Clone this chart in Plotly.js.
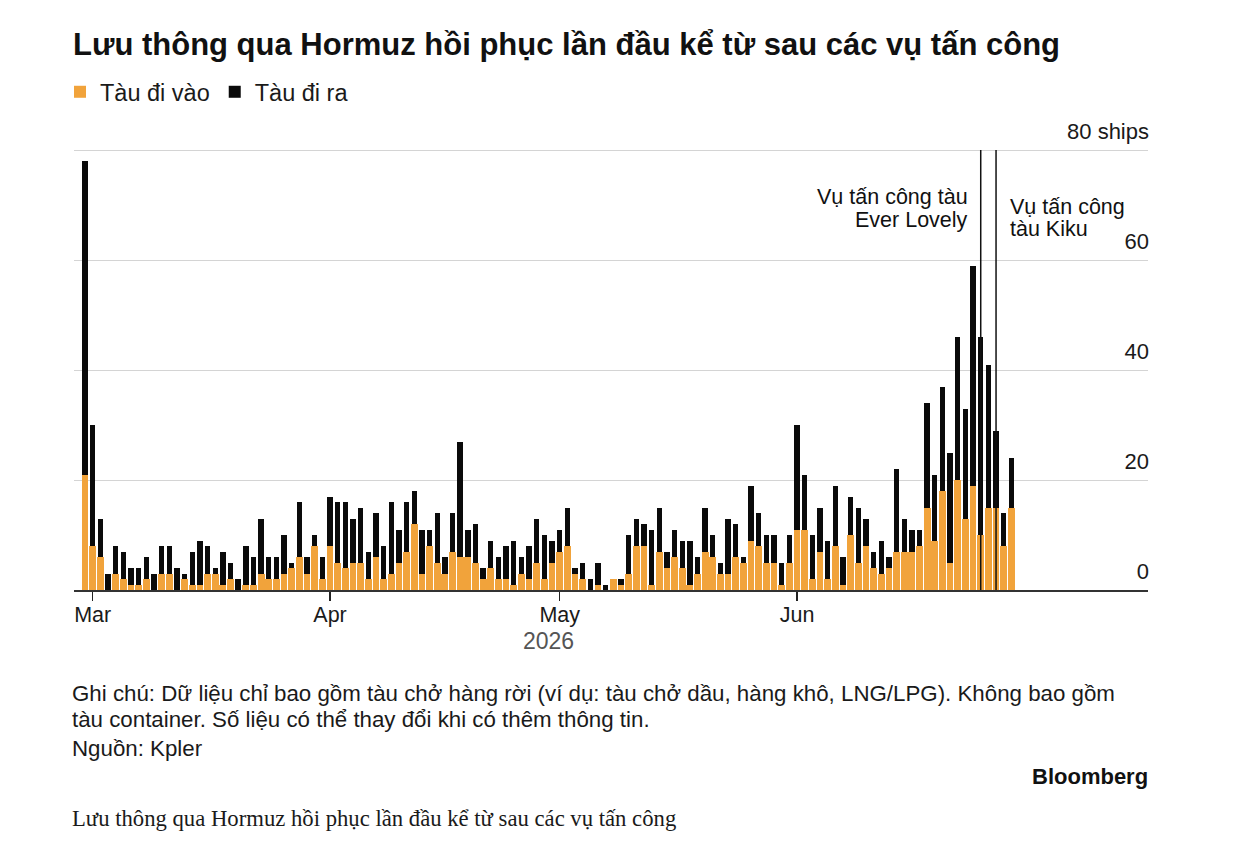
<!DOCTYPE html>
<html>
<head>
<meta charset="utf-8">
<script src="https://cdn.plot.ly/plotly-3.0.1.min.js"></script>
<style>
  html, body { margin: 0; padding: 0; background: #ffffff; }
  #chart { width: 1242px; height: 848px; }
</style>
</head>
<body>
<div id="chart"></div>
<script>
// ---- data (ships per day) ----
const firstDay = '2026-02-28';
const totalShips = [
  78, 30, 13, 3, 8, 7, 4, 4, 6, 3, 8, 8, 4, 3, 7, 9, 8, 4, 7, 5, 2, 8,
  6, 13, 6, 6, 10, 5, 16, 6, 10, 6,
  17, 16, 16, 13, 15, 7, 14, 8, 16, 11, 16, 18, 11, 11, 14, 6, 14, 27, 11, 12, 4, 9, 6, 8, 9, 6, 8, 13, 10, 9,
  11, 15, 4, 5, 2, 5, 1, 2, 2, 10, 13, 12, 11, 15, 7, 11, 9, 9, 6, 15, 10, 5, 13, 12, 6, 19, 14, 10, 10, 5, 10,
  30, 21, 10, 15, 9, 19, 6, 17, 15, 13, 7, 9, 6, 22, 13, 11, 11, 34, 21, 37, 25, 46, 33, 59, 46, 41, 29, 14, 24
];
const inbound = [
  21, 8, 6, 0, 3, 2, 1, 1, 2, 0, 3, 3, 0, 2, 1, 1, 3, 3, 1, 2, 0, 1,
  1, 3, 2, 2, 3, 4, 6, 3, 8, 2,
  8, 5, 4, 5, 5, 2, 6, 2, 3, 5, 7, 12, 3, 8, 5, 3, 7, 6, 6, 5, 2, 4, 2, 2, 1, 3, 2, 5, 2, 5,
  7, 8, 3, 2, 0, 1, 0, 2, 1, 3, 8, 8, 1, 7, 4, 6, 4, 1, 3, 7, 6, 3, 3, 6, 5, 9, 8, 5, 5, 1, 5,
  11, 11, 2, 7, 2, 8, 1, 10, 5, 8, 4, 3, 4, 7, 7, 7, 8, 15, 9, 18, 5, 20, 13, 19, 10, 15, 15, 8, 15
];
const outbound = totalShips.map((t, i) => t - inbound[i]);
const seriesNames = ['Tàu đi vào', 'Tàu đi ra'];
const seriesColors = ['#F1A33B', '#0a0a0a'];
const monthTicks = ['2026-03-01', '2026-04-01', '2026-05-01', '2026-06-01'];
const monthLabels = ['Mar', 'Apr', 'May', 'Jun'];
const yTicks = [0, 20, 40, 60, 80];
const yLabels = ['0', '20', '40', '60', '80 ships'];
const eventDates = ['2026-06-25', '2026-06-27'];
const eventLines = [['Vụ tấn công tàu', 'Ever Lovely'], ['Vụ tấn công', 'tàu Kiku']];
const yearLabel = '2026';
const titleText = 'Lưu thông qua Hormuz hồi phục lần đầu kể từ sau các vụ tấn công';
const noteLines = [
  'Ghi chú: Dữ liệu chỉ bao gồm tàu chở hàng rời (ví dụ: tàu chở dầu, hàng khô, LNG/LPG). Không bao gồm',
  'tàu container. Số liệu có thể thay đổi khi có thêm thông tin.',
  'Nguồn: Kpler'
];
const brandText = 'Bloomberg';
const captionText = 'Lưu thông qua Hormuz hồi phục lần đầu kể từ sau các vụ tấn công';

// ---- dates (consecutive days) ----
const DAY = 86400000;
const t0 = Date.parse(firstDay + 'T00:00:00Z');
const dates = totalShips.map((_, i) => new Date(t0 + i * DAY).toISOString().slice(0, 10));
const midDate = new Date((Date.parse(dates[0]) + Date.parse(dates[dates.length - 1])) / 2).toISOString().slice(0, 16).replace('T', ' ');

const FONT = 'Liberation Sans, Arial, Helvetica, sans-serif';

const traces = [
  {
    type: 'bar', name: seriesNames[0], x: dates, y: inbound,
    width: dates.map(() => DAY * 0.88),
    marker: { color: seriesColors[0], line: { width: 0 } },
    hoverinfo: 'x+y'
  },
  {
    type: 'bar', name: seriesNames[1], x: dates, y: outbound, base: inbound,
    width: dates.map(() => DAY * 0.7),
    marker: { color: seriesColors[1], line: { width: 0 } },
    hoverinfo: 'x+y'
  }
];

const plotTop = 147, plotBottom = 590, plotH = plotBottom - plotTop;
const yMax = 80 * plotH / 440;
const py = (pix) => (plotBottom - pix) / plotH;
const txt = (size, color, extra) => Object.assign({ family: FONT, size: size, color: color || '#1a1a1a' }, extra || {});

const annotations = [
  { text: eventLines[0][0], x: eventDates[0], xref: 'x', xanchor: 'right', xshift: -11,
    y: py(197), yref: 'paper', yanchor: 'middle', showarrow: false, font: txt(21.5, '#111') },
  { text: eventLines[0][1], x: eventDates[0], xref: 'x', xanchor: 'right', xshift: -11,
    y: py(220), yref: 'paper', yanchor: 'middle', showarrow: false, font: txt(21.5, '#111') },
  { text: eventLines[1][0], x: eventDates[1], xref: 'x', xanchor: 'left', xshift: 12,
    y: py(207), yref: 'paper', yanchor: 'middle', showarrow: false, font: txt(21.5, '#111') },
  { text: eventLines[1][1], x: eventDates[1], xref: 'x', xanchor: 'left', xshift: 12,
    y: py(229), yref: 'paper', yanchor: 'middle', showarrow: false, font: txt(21.5, '#111') },
  { text: yearLabel, x: midDate, xref: 'x', xanchor: 'center', y: py(641), yref: 'paper',
    yanchor: 'middle', showarrow: false, font: txt(23, '#555') },
  { text: noteLines[0], x: 0, xref: 'paper', xanchor: 'left', xshift: -4, y: py(693), yref: 'paper',
    yanchor: 'middle', showarrow: false, font: txt(22.3) },
  { text: noteLines[1], x: 0, xref: 'paper', xanchor: 'left', xshift: -4, y: py(719), yref: 'paper',
    yanchor: 'middle', showarrow: false, font: txt(22.3) },
  { text: noteLines[2], x: 0, xref: 'paper', xanchor: 'left', xshift: -4, y: py(748), yref: 'paper',
    yanchor: 'middle', showarrow: false, font: txt(22.3) },
  { text: brandText, x: 1, xref: 'paper', xanchor: 'right', xshift: 2, y: py(776), yref: 'paper',
    yanchor: 'middle', showarrow: false, font: txt(22, '#111', { weight: 'bold' }) },
  { text: captionText, x: 0, xref: 'paper', xanchor: 'left', xshift: -4, y: py(818), yref: 'paper',
    yanchor: 'middle', showarrow: false,
    font: { family: 'Liberation Serif, DejaVu Serif, serif', size: 22.7, color: '#1a1a1a' } }
];

const shapes = eventDates.map(d => ({
  type: 'line', xref: 'x', yref: 'paper', x0: d, x1: d, y0: 0, y1: py(150),
  line: { color: '#111', width: 1.5 }, layer: 'above'
}));

const layout = {
  width: 1242, height: 848,
  paper_bgcolor: '#ffffff', plot_bgcolor: '#ffffff',
  margin: { l: 74, r: 94, t: plotTop, b: 848 - plotBottom, pad: 0 },
  font: { family: FONT, color: '#1a1a1a' },
  title: {
    text: titleText, xref: 'container', x: 73 / 1242, xanchor: 'left',
    yref: 'container', y: 1 - 44 / 848, yanchor: 'middle',
    font: { family: FONT, size: 31, color: '#111', weight: 'bold' }
  },
  showlegend: true,
  legend: {
    orientation: 'h', xref: 'container', yref: 'container',
    x: 60 / 1242, xanchor: 'left', y: 1 - 92 / 848, yanchor: 'middle',
    font: txt(23.5),
    bgcolor: 'rgba(0,0,0,0)', traceorder: 'normal', itemclick: false
  },
  barmode: 'overlay',
  bargap: 0,
  xaxis: {
    type: 'date',
    range: ['2026-02-26 13:19', '2026-07-16 20:24'],
    tickmode: 'array', tickvals: monthTicks, ticktext: monthLabels,
    ticks: 'outside', ticklen: 9, tickwidth: 1.5, tickcolor: '#222',
    ticklabelstandoff: -4,
    tickfont: txt(21.5),
    showline: true, linecolor: '#333', linewidth: 1.5,
    showgrid: false, zeroline: false, fixedrange: true
  },
  yaxis: {
    range: [0, yMax], side: 'right',
    tickmode: 'array', tickvals: yTicks, ticktext: yLabels,
    ticklabelposition: 'inside top', ticklabeloverflow: 'allow', ticks: '',
    ticklabelstandoff: -4, ticklabelshift: -3,
    tickfont: txt(22),
    showgrid: true, gridcolor: '#d4d4d4', gridwidth: 1,
    zeroline: false, showline: false, fixedrange: true
  },
  annotations: annotations,
  shapes: shapes
};

Plotly.newPlot('chart', traces, layout, { displayModeBar: false, staticPlot: true });
</script>
</body>
</html>
